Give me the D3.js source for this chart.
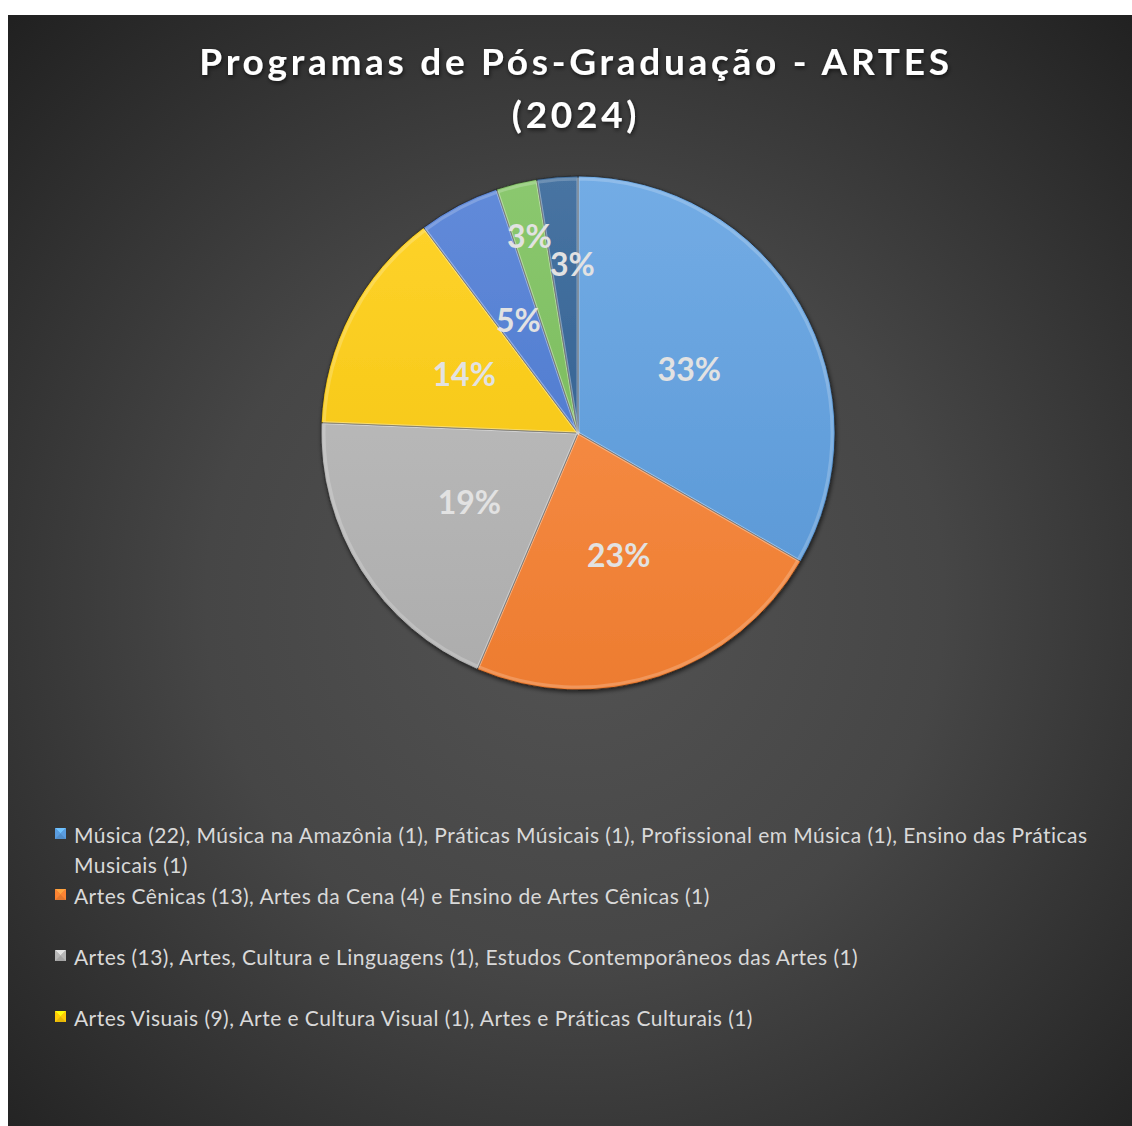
<!DOCTYPE html>
<html>
<head>
<meta charset="utf-8">
<script src="https://cdn.jsdelivr.net/npm/d3@7"></script>
<style>
  html, body { margin: 0; padding: 0; background: #fff; }
  svg { display: block; }
</style>
</head>
<body>
<svg id="chart"></svg>
<script>
// chart data
const titleLines = ["Programas de Pós-Graduação - ARTES", "(2024)"];
const sliceKeys = ["musica", "cenicas", "artes", "visuais", "outro1", "outro2", "outro3"];
const sliceValues = [26, 18, 15, 11, 4, 2, 2];
const sliceColors = ["#5A9DE0", "#FC8433", "#B7B7B7", "#FFCC08", "#4677D4", "#76BE55", "#285B91"];
const legendLabels = [
    "Música (22), Música na Amazônia (1), Práticas Músicais (1), Profissional em Música (1), Ensino das Práticas Musicais (1)",
    "Artes Cênicas (13), Artes da Cena (4) e Ensino de Artes Cênicas (1)",
    "Artes (13), Artes, Cultura e Linguagens (1), Estudos Contemporâneos das Artes (1)",
    "Artes Visuais (9), Arte e Cultura Visual (1),  Artes e Práticas Culturais (1)"
];

const width = 1132;
const height = 1126;

const svg = d3.select("#chart")
    .attr("width", width)
    .attr("height", height);

const defs = svg.append("defs");

// dark radial background
const bg = defs.append("radialGradient")
    .attr("id", "bg-grad")
    .attr("gradientUnits", "userSpaceOnUse")
    .attr("cx", 575).attr("cy", 600).attr("r", 820);
bg.append("stop").attr("offset", "0").attr("stop-color", "#535353");
bg.append("stop").attr("offset", "0.45").attr("stop-color", "#464646");
bg.append("stop").attr("offset", "1").attr("stop-color", "#202020");

svg.append("rect")
    .attr("x", 8).attr("y", 15)
    .attr("width", width - 8).attr("height", height - 15)
    .attr("fill", "url(#bg-grad)");

// soft shadow for title and pie
const shadow = defs.append("filter").attr("id", "shadow")
    .attr("x", "-10%").attr("y", "-10%").attr("width", "120%").attr("height", "120%");
shadow.append("feDropShadow")
    .attr("dx", 1).attr("dy", 2).attr("stdDeviation", 2)
    .attr("flood-color", "#000").attr("flood-opacity", 0.6);

// title
const title = svg.append("text")
    .attr("text-anchor", "middle")
    .attr("fill", "#ffffff")
    .style("font-family", "Lato, 'Open Sans', sans-serif")
    .style("font-weight", "bold")
    .style("font-size", "37px")
    .style("letter-spacing", "3.7px")
    .attr("filter", "url(#shadow)");

title.selectAll("tspan")
    .data(titleLines)
    .join("tspan")
    .attr("x", 576)
    .attr("y", (d, i) => 75 + i * 53)
    .text(d => d);

// pie
const cx = 578, cy = 433, radius = 257;
const total = d3.sum(sliceValues);

const pie = d3.pie().sort(null).value(d => d.value);
const arcs = pie(sliceKeys.map((k, i) => ({ key: k, value: sliceValues[i], color: sliceColors[i] })));

const arc = d3.arc().innerRadius(0).outerRadius(radius);
const rimArc = d3.arc().innerRadius(0).outerRadius(radius - 3);

// one vertical gradient per slice colour
arcs.forEach((d, i) => {
    const c = d3.color(d.data.color);
    const g = defs.append("linearGradient")
        .attr("id", "slice-grad-" + i)
        .attr("gradientUnits", "userSpaceOnUse")
        .attr("x1", 0).attr("y1", -radius)
        .attr("x2", 0).attr("y2", radius);
    g.append("stop").attr("offset", "0").attr("stop-color", d3.interpolateRgb(c, "#ffffff")(0.15));
    g.append("stop").attr("offset", "1").attr("stop-color", d3.interpolateRgb(c, "#000000")(0.06));
});

const gPie = svg.append("g")
    .attr("transform", `translate(${cx},${cy})`);

gPie.append("g")
    .attr("filter", "url(#shadow)")
    .selectAll("path")
    .data(arcs)
    .join("path")
    .attr("d", arc)
    .attr("fill", (d, i) => `url(#slice-grad-${i})`)
    .attr("stroke", "rgba(30,30,30,0.7)")
    .attr("stroke-width", 1);

// bevel highlight along edges
gPie.append("g")
    .selectAll("path")
    .data(arcs)
    .join("path")
    .attr("d", rimArc)
    .attr("fill", "none")
    .attr("stroke", "rgba(255,255,255,0.2)")
    .attr("stroke-width", 3)
    .attr("stroke-linejoin", "round");

// percent labels, small slices pushed outward so they don't collide
const labelR = (d, i) => {
    const share = d.value / total;
    if (share >= 0.04) return radius * 0.5;
    return i % 2 === 1 ? radius * 0.79 : radius * 0.66;
};

gPie.append("g")
    .selectAll("text")
    .data(arcs)
    .join("text")
    .attr("transform", (d, i) => {
        const a = (d.startAngle + d.endAngle) / 2;
        const r = labelR(d, i);
        return `translate(${r * Math.sin(a) + (i === 6 ? 8 : 0)},${-r * Math.cos(a)})`;
    })
    .attr("text-anchor", "middle")
    .attr("dominant-baseline", "central")
    .attr("fill", "#e2e2e2")
    .style("font-family", "Lato, 'Open Sans', sans-serif")
    .style("font-weight", "bold")
    .style("font-size", "32px")
    .text(d => Math.round(d.value / total * 100) + "%");

// legend
const legendX = 74;
const legendMaxW = 1040;
const lineH = 30;
const entryH = 61;
const legendTop = 834;

const legend = svg.append("g")
    .style("font-family", "Lato, 'Open Sans', sans-serif")
    .style("font-size", "21px")
    .style("letter-spacing", "0.45px")
    .style("white-space", "pre");

legendLabels.forEach((label, i) => {
    const y0 = legendTop + i * entryH;
    const c = d3.color(sliceColors[i]);

    // bevelled marker
    const m = legend.append("g").attr("transform", `translate(55,${y0 - 6})`);
    m.append("rect").attr("width", 11).attr("height", 11).attr("fill", c.darker(0.3));
    m.append("path").attr("d", "M0,0 L11,0 L5.5,5.5 Z").attr("fill", c.brighter(0.6));
    m.append("path").attr("d", "M0,0 L5.5,5.5 L0,11 Z M11,0 L5.5,5.5 L11,11 Z").attr("fill", c);

    const text = legend.append("text")
        .attr("x", legendX)
        .attr("y", y0)
        .attr("dominant-baseline", "central")
        .attr("fill", "#d9d9d9");

    // wrap words into lines
    const words = label.split(" ");
    let line = [];
    let lineNo = 0;
    let tspan = text.append("tspan").attr("x", legendX).attr("y", y0);
    words.forEach(w => {
        line.push(w);
        tspan.text(line.join(" "));
        if (tspan.node().getComputedTextLength() > legendMaxW && line.length > 1) {
            line.pop();
            tspan.text(line.join(" "));
            line = [w];
            lineNo++;
            tspan = text.append("tspan")
                .attr("x", legendX)
                .attr("y", y0 + lineNo * lineH)
                .text(w);
        }
    });
});
</script>
</body>
</html>
